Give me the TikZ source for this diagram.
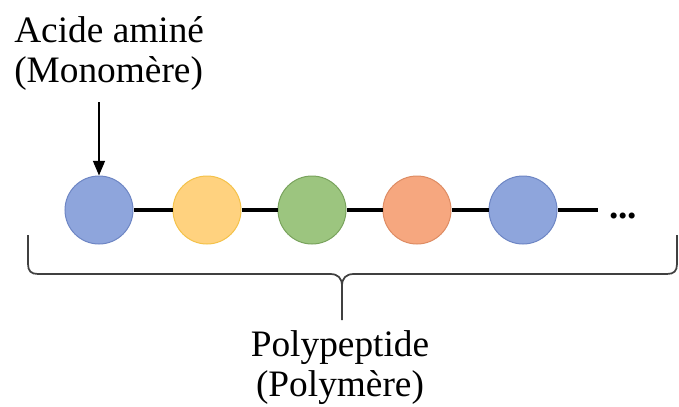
\documentclass[tikz,border=0pt]{standalone}
\usepackage{fontspec}
\setmainfont{Liberation Serif}
\usepackage{xcolor}
\usetikzlibrary{arrows.meta}
\definecolor{AminoBlue}{RGB}{142,165,220}
\definecolor{AminoBlueEdge}{RGB}{110,134,196}
\definecolor{AminoYellow}{RGB}{255,210,127}
\definecolor{AminoYellowEdge}{RGB}{244,194,74}
\definecolor{AminoGreen}{RGB}{156,197,127}
\definecolor{AminoGreenEdge}{RGB}{121,163,93}
\definecolor{AminoOrange}{RGB}{246,167,127}
\definecolor{AminoOrangeEdge}{RGB}{222,140,99}

\begin{document}
\begin{tikzpicture}[x=0.75pt,y=0.75pt,yscale=-1,xscale=1,
	amino/.style={circle, minimum size=51pt, inner sep=0pt, line width=0.75pt},
	bond/.style={line width=2.6pt},
	label/.style={inner sep=0.75pt, font=\fontsize{28}{30.5}\selectfont}]
						\useasboundingbox (0,0) rectangle (679,407);

						%Shape: Circle
						\node [amino, fill=AminoBlue, draw=AminoBlueEdge] (c1) at (99,210) {};
						%Shape: Circle
						\node [amino, fill=AminoYellow, draw=AminoYellowEdge] (c2) at (207,210) {};
						%Shape: Circle
						\node [amino, fill=AminoGreen, draw=AminoGreenEdge] (c3) at (312,210) {};
						%Shape: Circle
						\node [amino, fill=AminoOrange, draw=AminoOrangeEdge] (c4) at (417,210) {};
						%Shape: Circle
						\node [amino, fill=AminoBlue, draw=AminoBlueEdge] (c5) at (523,210) {};
						\coordinate (chainend) at (598,210);
						\coordinate (arrowstart) at (99,102);

						%Straight Lines
						\draw [bond] (c1.east) -- (c2.west);
						\draw [bond] (c2.east) -- (c3.west);
						\draw [bond] (c3.east) -- (c4.west);
						\draw [bond] (c4.east) -- (c5.west);
						\draw [bond] (c5.east) -- (chainend);
						%Straight Lines
						\draw [line width=1.1pt, -{Triangle[length=11pt,width=9pt]}] (arrowstart) -- (c1.north);

						%Shape: Brace
						\draw [color=black!75, line width=1.3pt] (28,235) -- (28,264) .. controls (28,271) and (31,274) .. (38,274) -- (330,274) .. controls (338,274) and (342,278) .. (342,286) -- (342,320) ;
						\draw [color=black!75, line width=1.3pt] (677,235) -- (677,264) .. controls (677,271) and (674,274) .. (667,274) -- (354,274) .. controls (346,274) and (342,278) .. (342,286) ;

						% Text Node
						\node [label, anchor=north west, align=left] (monomer) at (13,15) {Acide aminé\\(Monomère)};
						% Text Node
						\node [label, anchor=north, align=center] (polymer) at (340,329) {Polypeptide\\(Polymère)};
						% Text Node
						\node [label, anchor=west] (dots) at (608,216) {\textbf{...}};

					\end{tikzpicture}
\end{document}
